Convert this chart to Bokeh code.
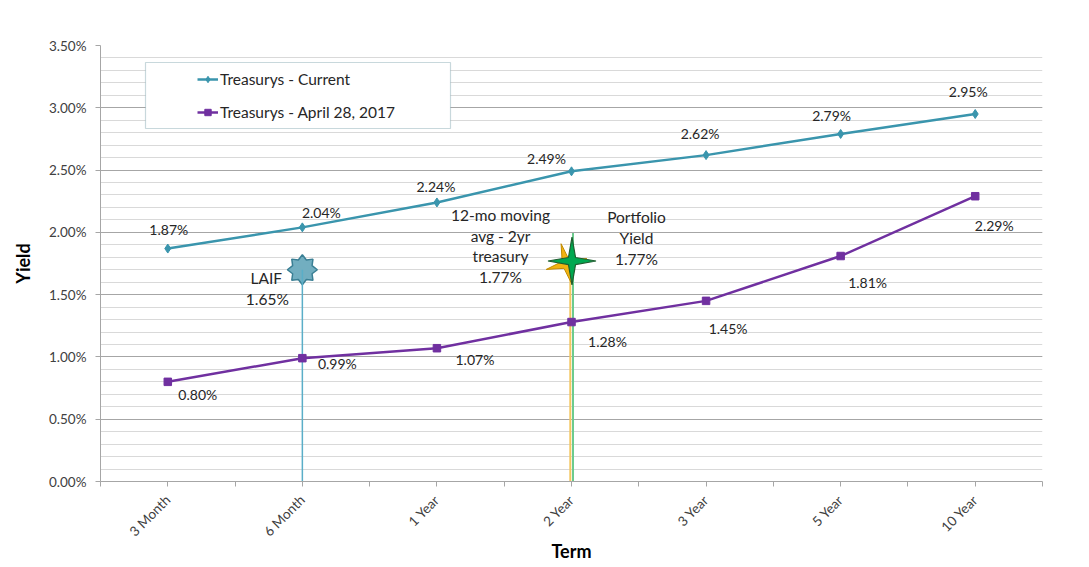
import math
from bokeh.plotting import figure
from bokeh.models import (ColumnDataSource, SingleIntervalTicker, FixedTicker, CustomJSTickFormatter,
                          PrintfTickFormatter, Legend, LegendItem, BoxAnnotation)
from bokeh.core.properties import value
from bokeh.embed import file_html
from bokeh.resources import INLINE

# ---------------- data ----------------
terms = ["3 Month", "6 Month", "1 Year", "2 Year", "3 Year", "5 Year", "10 Year"]
current = [1.87, 2.04, 2.24, 2.49, 2.62, 2.79, 2.95]
april_2017 = [0.80, 0.99, 1.07, 1.28, 1.45, 1.81, 2.29]
series_names = ["Treasurys - Current", "Treasurys - April 28, 2017"]

laif_label = "1.65%"
laif_marker = 1.70          # where the star sits on the picture
laif_term = "6 Month"
moving_avg_label = "1.77%"
portfolio_label = "1.77%"
moving_avg_marker = 1.77
portfolio_marker = 1.77
star_term = "2 Year"

# label offsets (pixels) for data labels
cur_dx = [1, 19, -1, -25, -6, -9, -7]
cur_dy = [-19, -15, -16, -13, -22, -18, -23]
apr_dx = [30, 35, 38, 36, 22, 27, 19]
apr_dy = [13, 5, 11, 19, 28, 26, 29]

# ---------------- style ----------------
FONT = "Lato"
TEAL = "#3A95AD"
PURPLE = "#7030A0"
TXT = "#262626"
FRAME_W, FRAME_H = 942, 436
X_MAX, Y_MAX = len(terms), 3.5
SX, SY = FRAME_W / X_MAX, FRAME_H / Y_MAX   # px per data unit

xs = [i + 0.5 for i in range(len(terms))]

p = figure(frame_width=FRAME_W, frame_height=FRAME_H, x_range=(0, X_MAX), y_range=(0, Y_MAX),
           output_backend="svg", toolbar_location=None,
           min_border_left=100, min_border_top=45, min_border_right=39, min_border_bottom=70)
p.outline_line_color = None
p.background_fill_color = "white"
p.border_fill_color = "white"

# axes
p.yaxis.ticker = SingleIntervalTicker(interval=0.5, num_minor_ticks=5)
p.yaxis.formatter = PrintfTickFormatter(format="%.2f%%")
p.xaxis.ticker = FixedTicker(ticks=[i * 0.5 for i in range(2 * len(terms) + 1)])
p.xaxis.formatter = CustomJSTickFormatter(args=dict(names=terms), code="""
    const i = Math.round(tick * 2);
    return (i % 2 == 1) ? names[(i - 1) / 2] : "";
""")
for ax in (p.xaxis[0], p.yaxis[0]):
    ax.axis_line_color = "#A6A6A6"
    ax.major_tick_line_color = "#A6A6A6"
    ax.minor_tick_line_color = None
    ax.major_tick_in = 0
    ax.major_tick_out = 5
    ax.major_label_text_font = FONT
    ax.major_label_text_color = "#404040"
    ax.major_label_text_font_size = "13.5px"
    ax.axis_label_text_font = FONT
    ax.axis_label_text_font_style = "bold"
    ax.axis_label_text_font_size = "18px"
    ax.axis_label_text_color = "black"
p.yaxis.major_label_standoff = 9
p.xaxis.major_label_orientation = math.pi / 4
p.xaxis.major_label_text_font_size = "13.5px"
p.xaxis.major_label_standoff = 11
p.xaxis.axis_label = "Term"
p.yaxis.axis_label = "Yield"
p.yaxis.axis_label_standoff = 12
p.xaxis.axis_label_standoff = -8

p.xgrid.grid_line_color = None
p.ygrid.grid_line_color = "#A6A6A6"
p.ygrid.minor_grid_line_color = "#D9D9D9"

# ---------------- helper for star shapes ----------------
def star(cx, cy, r_out, r_in, n, rot=90.0, dx=0.0, dy=0.0):
    px, py = [], []
    for k in range(2 * n):
        a = math.radians(rot + k * 180.0 / n)
        r = r_out if k % 2 == 0 else r_in
        px.append(cx + (dx + r * math.cos(a)) / SX)
        py.append(cy + (dy + r * math.sin(a)) / SY)
    return px, py

laif_x = terms.index(laif_term) + 0.5
star_x = terms.index(star_term) + 0.5

# ---------------- vertical marker lines & stars ----------------
sx_, sy_ = star(laif_x, laif_marker, 15, 10.5, 8)
p.patch(sx_, sy_, fill_color="#72AEC0", line_color="#3A7F94", line_width=1.5)
p.segment(x0=[laif_x], y0=[0], x1=[laif_x], y1=[laif_marker], line_color="#5AAEC8", line_width=1.5)

p.segment(x0=[star_x - 1.2 / SX], y0=[0], x1=[star_x - 1.2 / SX], y1=[moving_avg_marker],
          line_color="#F4C660", line_width=2)
ox, oy = star(star_x, moving_avg_marker, 21, 5, 4, rot=105, dx=-5, dy=-3)
p.patch(ox, oy, fill_color="#F2B311", line_color="#C08A00", line_width=1)
p.segment(x0=[star_x + 1.5 / SX], y0=[0], x1=[star_x + 1.5 / SX], y1=[portfolio_marker + 28 / SY],
          line_color="#6CCB8E", line_width=2)
gx, gy = star(star_x, portfolio_marker, 24, 5, 4, rot=90, dx=0.5)
p.patch(gx, gy, fill_color="#00A850", line_color="#1F5E30", line_width=1.2)

# ---------------- series ----------------
src_c = ColumnDataSource(dict(x=xs, y=current, lab=[f"{v:.2f}%" for v in current], dx=cur_dx, dy=cur_dy))
src_a = ColumnDataSource(dict(x=xs, y=april_2017, lab=[f"{v:.2f}%" for v in april_2017], dx=apr_dx, dy=apr_dy))

lc = p.line("x", "y", source=src_c, line_color=TEAL, line_width=2.5)
mc = p.scatter("x", "y", source=src_c, marker="diamond", size=9, fill_color=TEAL, line_color=TEAL)
la = p.line("x", "y", source=src_a, line_color=PURPLE, line_width=2.5)
ma = p.scatter("x", "y", source=src_a, marker="square", size=7.5, fill_color=PURPLE, line_color=PURPLE)

for src in (src_c, src_a):
    p.text("x", "y", text="lab", source=src, x_offset="dx", y_offset="dy",
           text_font=value(FONT), text_font_size="14px", text_color=TXT,
           text_align="center", text_baseline="middle")

# ---------------- annotation texts ----------------
ann_text = ["LAIF", laif_label,
            "12-mo moving", "avg - 2yr", "treasury", moving_avg_label,
            "Portfolio", "Yield", portfolio_label]
ann_x = [laif_x, laif_x] + [star_x] * 7
ann_y = [laif_marker, laif_marker] + [moving_avg_marker] * 4 + [portfolio_marker] * 3
ann_dx = [-36, -35, -71, -71, -71, -71, 65, 65, 65]
ann_dy = [8, 29, -46, -25, -5, 16, -44, -23, -2]
src_ann = ColumnDataSource(dict(x=ann_x, y=ann_y, t=ann_text, dx=ann_dx, dy=ann_dy))
p.text("x", "y", text="t", source=src_ann, x_offset="dx", y_offset="dy",
       text_font=value(FONT), text_font_size="15.5px", text_color=TXT,
       text_align="center", text_baseline="middle")

# ---------------- legend ----------------
box = BoxAnnotation(left=45 / SX, right=350 / SX, top=Y_MAX - 17 / SY, bottom=Y_MAX - 83 / SY,
                    fill_color="white", fill_alpha=1.0, line_color="#4A7F8C", line_width=1.2)
p.add_layout(box)
legend = Legend(items=[LegendItem(label=series_names[0], renderers=[lc, mc]),
                       LegendItem(label=series_names[1], renderers=[la, ma])],
                location=(97, 359), padding=0, margin=0, spacing=13,
                glyph_width=21, glyph_height=16, label_height=20, label_standoff=2,
                label_text_font=FONT, label_text_font_size="15.5px", label_text_color=TXT,
                background_fill_alpha=0, border_line_alpha=0)
p.add_layout(legend)

open("out.html", "w").write(file_html(p, INLINE))
